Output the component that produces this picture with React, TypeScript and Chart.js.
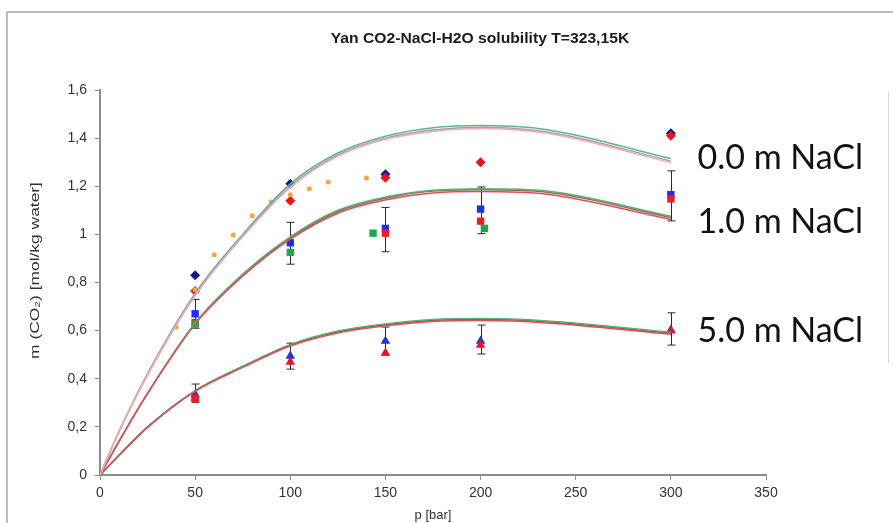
import React, { useEffect, useRef } from "react";
import { Chart, registerables } from "chart.js";

Chart.register(...registerables);

// ---- Data ----
const xTicks = [0, 50, 100, 150, 200, 250, 300, 350];
const yTickLabels = ["0", "0,2", "0,4", "0,6", "0,8", "1", "1,2", "1,4", "1,6"];

const modelP = [0, 10, 25, 50, 75, 100, 125, 150, 175, 200, 235, 300];
const m0Green = [0, 0.18, 0.42, 0.755, 1.0, 1.21, 1.338, 1.408, 1.443, 1.452, 1.435, 1.315];
const m0Gray = [0, 0.18, 0.42, 0.75, 0.995, 1.2, 1.33, 1.4, 1.434, 1.445, 1.425, 1.305];
const m0Pink = [0, 0.18, 0.415, 0.745, 0.99, 1.195, 1.325, 1.395, 1.428, 1.44, 1.42, 1.298];
const m1Green = [0, 0.14, 0.34, 0.632, 0.835, 0.99, 1.1, 1.155, 1.183, 1.19, 1.18, 1.075];
const m1Brown = [0, 0.14, 0.34, 0.63, 0.83, 0.985, 1.095, 1.15, 1.18, 1.185, 1.175, 1.07];
const m1Red = [0, 0.14, 0.338, 0.627, 0.826, 0.98, 1.088, 1.143, 1.172, 1.178, 1.167, 1.062];
const m5Green = [0, 0.082, 0.2, 0.35, 0.452, 0.542, 0.598, 0.628, 0.646, 0.65, 0.64, 0.593];
const m5Brown = [0, 0.082, 0.2, 0.35, 0.45, 0.54, 0.595, 0.625, 0.643, 0.647, 0.637, 0.59];
const m5Red = [0, 0.081, 0.198, 0.348, 0.447, 0.536, 0.59, 0.62, 0.638, 0.642, 0.632, 0.585];

// 0.0 m NaCl experimental
const navyDiaP = [50, 100, 150, 300];
const navyDiaM = [0.83, 1.21, 1.25, 1.42];
const redDiaP = [50, 100, 150, 200, 300];
const redDiaM = [0.765, 1.14, 1.235, 1.3, 1.41];
const orangeP = [40, 50, 60, 70, 80, 90, 100, 110, 120, 140];
const orangeM = [0.615, 0.77, 0.915, 0.997, 1.077, 1.135, 1.165, 1.19, 1.218, 1.234];

// 1.0 m NaCl experimental
const blueSqP = [50, 100, 150, 200, 300];
const blueSqM = [0.67, 0.965, 1.025, 1.105, 1.165];
const redSqP = [50, 150, 200, 300, 50];
const redSqM = [0.633, 1.005, 1.055, 1.147, 0.316];
const greenSqP = [50, 100, 143.5, 202];
const greenSqM = [0.627, 0.925, 1.005, 1.025];
const err1P = [50, 100, 150, 200, 300];
const err1M = [0.67, 0.963, 1.02, 1.1, 1.16];
const err1D = [0.06, 0.087, 0.092, 0.097, 0.104];

// 5.0 m NaCl experimental
const blueTriP = [50, 100, 150, 200, 300];
const blueTriM = [0.335, 0.495, 0.557, 0.557, 0.603];
const redTriP = [50, 100, 150, 200, 300];
const redTriM = [0.32, 0.47, 0.507, 0.54, 0.6];
const err5P = [50, 100, 150, 200, 300];
const err5M = [0.34, 0.494, 0.557, 0.563, 0.607];
const err5D = [0.038, 0.054, 0.058, 0.06, 0.067];

const seriesLabels = ["0.0 m NaCl", "1.0 m NaCl", "5.0 m NaCl"];
const seriesLabelP = [314, 314, 314];
const seriesLabelM = [1.317, 1.052, 0.598];

const titleText = "Yan CO2-NaCl-H2O solubility T=323,15K";
const yTitle = "m (CO\u2082) [mol/kg water]";
const xTitle = "p [bar]";

const FONT = "'Liberation Sans', Arial, sans-serif";

const pts = (xs: number[], ys: number[]) => xs.map((x, i) => ({ x, y: ys[i] }));

const lineDs = (data: number[], color: string) => ({
  data: pts(modelP, data),
  showLine: true,
  borderColor: color,
  backgroundColor: color,
  borderWidth: 1.5,
  pointRadius: 0,
  cubicInterpolationMode: "monotone",
});

const markDs = (xs: number[], ys: number[], color: string, style: any, r: number) => ({
  data: pts(xs, ys),
  showLine: false,
  pointStyle: style,
  pointRadius: r,
  borderWidth: 0,
  borderColor: color,
  backgroundColor: color,
});

const decorPlugin = {
  id: "decor",
  beforeDraw(chart: any) {
    const ctx = chart.ctx;
    const area = chart.chartArea;
    ctx.save();
    ctx.fillStyle = "#ffffff";
    ctx.fillRect(0, 0, chart.width, chart.height);
    ctx.strokeStyle = "#bdbdbd";
    ctx.lineWidth = 2;
    ctx.beginPath();
    ctx.moveTo(7, chart.height);
    ctx.lineTo(7, 12);
    ctx.lineTo(chart.width, 12);
    ctx.stroke();
    ctx.strokeStyle = "#d4d4d4";
    ctx.lineWidth = 1;
    ctx.beginPath();
    ctx.moveTo(888.5, 92);
    ctx.lineTo(888.5, 363);
    ctx.stroke();
    // title
    ctx.save();
    ctx.fillStyle = "#1a1a1a";
    ctx.font = "bold 14px " + FONT;
    ctx.textAlign = "center";
    ctx.textBaseline = "middle";
    ctx.translate(480, 39);
    ctx.scale(1.12, 1);
    ctx.fillText(titleText, 0, 0);
    ctx.restore();
    // y axis title (stretched along its length like the reference)
    ctx.fillStyle = "#333333";
    ctx.font = "12px " + FONT;
    ctx.textAlign = "center";
    ctx.textBaseline = "middle";
    ctx.translate(36, (area.top + area.bottom) / 2 - 12);
    ctx.rotate(-Math.PI / 2);
    ctx.scale(1.45, 1);
    ctx.fillText(yTitle, 0, 0);
    ctx.restore();
  },
  beforeDatasetsDraw(chart: any) {
    const ctx = chart.ctx;
    const xs = chart.scales.x;
    const ys = chart.scales.y;
    ctx.save();
    ctx.strokeStyle = "#2a2a2a";
    ctx.lineWidth = 1;
    const drawErr = (P: number[], M: number[], D: number[]) => {
      P.forEach((p, i) => {
        const x = Math.round(xs.getPixelForValue(p)) + 0.5;
        const y1 = ys.getPixelForValue(M[i] + D[i]);
        const y2 = ys.getPixelForValue(M[i] - D[i]);
        ctx.beginPath();
        ctx.moveTo(x, y1);
        ctx.lineTo(x, y2);
        ctx.moveTo(x - 4, y1);
        ctx.lineTo(x + 4, y1);
        ctx.moveTo(x - 4, y2);
        ctx.lineTo(x + 4, y2);
        ctx.stroke();
      });
    };
    drawErr(err1P, err1M, err1D);
    drawErr(err5P, err5M, err5D);
    ctx.restore();
  },
  afterDraw(chart: any) {
    const ctx = chart.ctx;
    const xs = chart.scales.x;
    const ys = chart.scales.y;
    ctx.save();
    ctx.fillStyle = "#111111";
    ctx.font = "34px Lato, 'Open Sans', sans-serif";
    ctx.textAlign = "left";
    ctx.textBaseline = "middle";
    seriesLabels.forEach((t, i) => {
      ctx.fillText(t, xs.getPixelForValue(seriesLabelP[i]), ys.getPixelForValue(seriesLabelM[i]));
    });
    ctx.restore();
  },
};

export default function App() {
  const ref = useRef<HTMLCanvasElement | null>(null);
  useEffect(() => {
    if (!ref.current) return;
    const chart = new Chart(ref.current, {
      type: "scatter",
      data: {
        datasets: [
          lineDs(m0Pink, "#f3a9b8"),
          lineDs(m0Gray, "#a0a0a0"),
          lineDs(m0Green, "#5fb58a"),
          lineDs(m1Red, "#e8485e"),
          lineDs(m1Green, "#58b06e"),
          lineDs(m1Brown, "#8a6c50"),
          lineDs(m5Red, "#e8485e"),
          lineDs(m5Green, "#58b06e"),
          lineDs(m5Brown, "#6e5642"),
          markDs(orangeP, orangeM, "#f6a73a", "circle", 2.5),
          markDs(redDiaP, redDiaM, "#e8141e", "rectRot", 5),
          markDs(navyDiaP, navyDiaM, "#0d1b8a", "rectRot", 5),
          markDs(greenSqP, greenSqM, "#1fa84a", "rect", 5.2),
          markDs(redSqP, redSqM, "#ec1c2a", "rect", 5.2),
          markDs(blueSqP, blueSqM, "#1c2ff0", "rect", 5.2),
          markDs(redTriP, redTriM, "#e8102a", "triangle", 5.5),
          markDs(blueTriP, blueTriM, "#2233e0", "triangle", 5.5),
        ] as any,
      },
      options: {
        animation: false,
        responsive: false,
        devicePixelRatio: 1,
        layout: { padding: { left: 0, right: 127, top: 90, bottom: 0 } },
        plugins: {
          legend: { display: false },
          title: { display: false },
          tooltip: { enabled: false },
        },
        scales: {
          x: {
            type: "linear",
            min: 0,
            max: 350,
            afterBuildTicks: (s: any) => {
              s.ticks = xTicks.map((v) => ({ value: v }));
            },
            afterFit: (s: any) => {
              s.height = 48;
            },
            grid: {
              display: true,
              drawOnChartArea: false,
              drawTicks: true,
              tickLength: 5,
              tickColor: "#8c8c8c",
            },
            border: { display: true, color: "#8c8c8c", width: 2 },
            ticks: {
              color: "#333333",
              padding: 5,
              maxRotation: 0,
              font: { family: FONT, size: 14 },
              callback: (v: any) => String(v),
            },
            title: {
              display: true,
              text: xTitle,
              color: "#333333",
              padding: { top: 0, bottom: 0 },
              font: { family: FONT, size: 13 },
            },
          },
          y: {
            type: "linear",
            min: 0,
            max: 1.6,
            afterBuildTicks: (s: any) => {
              s.ticks = yTickLabels.map((_, i) => ({ value: i * 0.2 }));
            },
            afterFit: (s: any) => {
              s.width = 100;
            },
            grid: {
              display: true,
              drawOnChartArea: false,
              drawTicks: true,
              tickLength: 5,
              tickColor: "#8c8c8c",
            },
            border: { display: true, color: "#8c8c8c", width: 2 },
            ticks: {
              color: "#333333",
              padding: 8,
              font: { family: FONT, size: 14 },
              callback: (_v: any, i: number) => yTickLabels[i],
            },
            title: { display: false },
          },
        },
      },
      plugins: [decorPlugin],
    });
    return () => chart.destroy();
  }, []);
  return (
    <div style={{ position: "absolute", left: 0, top: 0, width: 893, height: 523 }}>
      <canvas ref={ref} width={893} height={523} style={{ display: "block" }} />
    </div>
  );
}
